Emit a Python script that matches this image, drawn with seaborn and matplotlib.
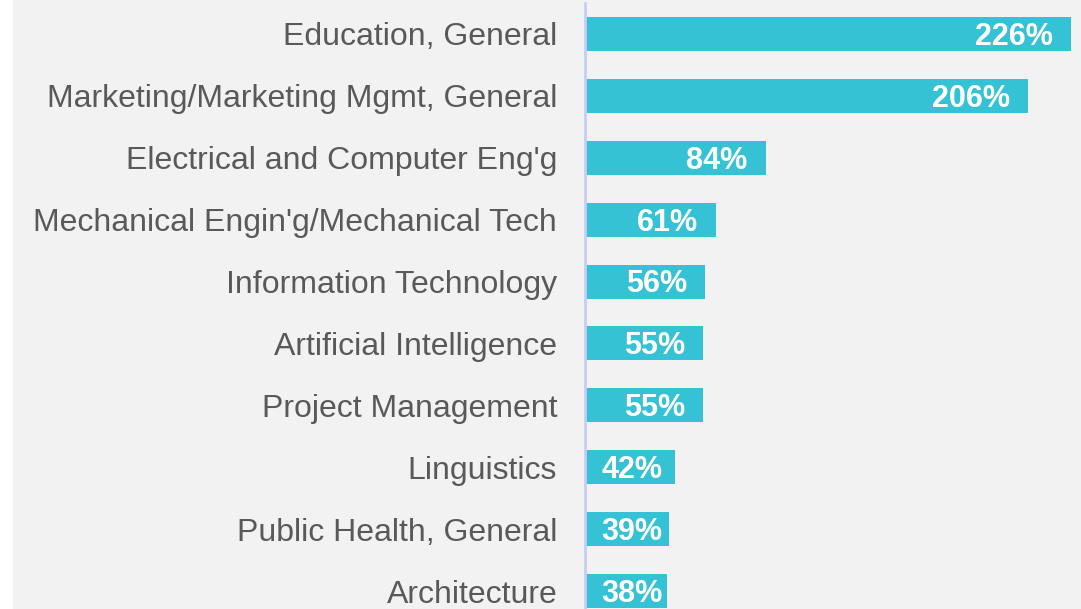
import matplotlib
matplotlib.use("Agg")
import matplotlib.pyplot as plt
import seaborn as sns
import pandas as pd
from matplotlib.patches import Rectangle

categories = [
    "Education, General",
    "Marketing/Marketing Mgmt, General",
    "Electrical and Computer Eng'g",
    "Mechanical Engin'g/Mechanical Tech",
    "Information Technology",
    "Artificial Intelligence",
    "Project Management",
    "Linguistics",
    "Public Health, General",
    "Architecture",
]
values = [226, 206, 84, 61, 56, 55, 55, 42, 39, 38]

df = pd.DataFrame({"category": categories, "value": values})

sns.set_theme(style="white")
plt.rcParams["font.family"] = ["Liberation Sans", "DejaVu Sans"]

W, H = 1081, 609
fig = plt.figure(figsize=(W / 100, H / 100), dpi=100)
fig.patch.set_facecolor("white")
bg = Rectangle((13 / W, 0), 1 - 13 / W, 1, transform=fig.transFigure,
               facecolor="#f2f2f2", edgecolor="none", zorder=-10)
fig.patches.append(bg)

ax_left = 585 / W
ax_top = 3
ax = fig.add_axes([ax_left, 0, 1 - ax_left, (H - ax_top) / H])
ax.set_facecolor("none")
ax.set_zorder(5)

bar_color = "#35c2d4"
sns.barplot(data=df, x="value", y="category", orient="h", color=bar_color,
            width=0.55, saturation=1, ax=ax, edgecolor="none")

px_per_unit = 2.151
ax.set_xlim(0, (W - 585) / px_per_unit)
ax.set_ylim(9.29, -0.5)

for s in ["top", "right", "bottom"]:
    ax.spines[s].set_visible(False)
ax.spines["left"].set_color("#c8cdf7")
ax.spines["left"].set_linewidth(2)
ax.set_xticks([])
ax.set_xlabel("")
ax.set_ylabel("")
ax.tick_params(axis="y", length=0, pad=20, labelsize=23, labelcolor="#595959")

px_per_cat = 61.9
val_fs = 22
cap_half = 0.716 * val_fs * 100 / 72 / 2 / px_per_cat
for i, v in enumerate(values):
    if v >= 45:
        ax.text(v - 18 / px_per_unit, i + cap_half, f"{v}%", ha="right", va="baseline",
                color="white", fontsize=val_fs, fontweight="bold")
    else:
        ax.text(16 / px_per_unit, i + cap_half, f"{v}%", ha="left", va="baseline",
                color="white", fontsize=val_fs, fontweight="bold")

fig.savefig("out.png", dpi=100, facecolor=fig.get_facecolor())
